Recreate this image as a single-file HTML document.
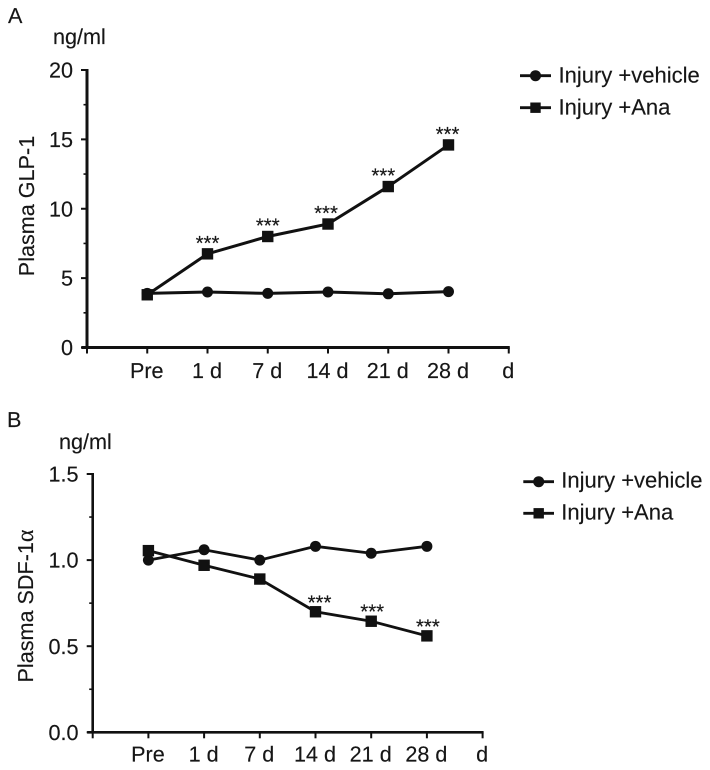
<!DOCTYPE html>
<html lang="en">
<head>
<meta charset="utf-8">
<title>Plasma GLP-1 and SDF-1α</title>
<style>
html,body{margin:0;padding:0;background:#fff;width:710px;height:770px;overflow:hidden}
svg{display:block}
text{font-family:"Liberation Sans",sans-serif;font-size:21.6px;fill:#161616;stroke:#161616;stroke-width:0.15;text-rendering:geometricPrecision}
text.legend{font-size:22px}
text.star{font-size:20.4px}
</style>
</head>
<body>
<svg id="figure" width="710" height="770" viewBox="0 0 710 770" xmlns="http://www.w3.org/2000/svg">
  <text x="8" y="23">A</text>
  <text x="53" y="44">ng/ml</text>
  <text x="34" y="206" text-anchor="middle" transform="rotate(-90 34 206)">Plasma GLP-1</text>
  <text x="7" y="427">B</text>
  <text x="59" y="449">ng/ml</text>
  <text x="33" y="606" text-anchor="middle" transform="rotate(-90 33 606)">Plasma SDF-1<tspan style="font-family:'Liberation Serif',serif;font-size:24px">α</tspan></text>

  <g>
    <g>
      <line x1="520" x2="551" y1="75.7" y2="75.7" stroke="#111" stroke-width="2.8"/>
      <circle cx="535.5" cy="75.7" r="5.5" fill="#111"/>
      <text class="legend" x="558.5" y="82.3">Injury +vehicle</text>
    </g>
    <g>
      <line x1="520" x2="551" y1="107.7" y2="107.7" stroke="#111" stroke-width="2.8"/>
      <rect x="530.3" y="102.5" width="10.4" height="10.4" fill="#111"/>
      <text class="legend" x="558.5" y="114.3">Injury +Ana</text>
    </g>
  </g>
  <g>
    <g>
      <line x1="523.3" x2="554" y1="481.7" y2="481.7" stroke="#111" stroke-width="2.8"/>
      <circle cx="538.7" cy="481.7" r="5.5" fill="#111"/>
      <text class="legend" x="561.3" y="487.6">Injury +vehicle</text>
    </g>
    <g>
      <line x1="523.3" x2="554" y1="513.3" y2="513.3" stroke="#111" stroke-width="2.8"/>
      <rect x="533.5" y="508.1" width="10.4" height="10.4" fill="#111"/>
      <text class="legend" x="561.3" y="519.3">Injury +Ana</text>
    </g>
  </g>
</svg>
<script>
// Shared categories
const categories = ['Pre', '1 d', '7 d', '14 d', '21 d', '28 d', 'd'];

// Panel A data
const glpTicks = ['0', '5', '10', '15', '20'];
const glpVehicle = [3.9, 4.0, 3.9, 4.0, 3.87, 4.03];
const glpAna = [3.8, 6.75, 8.0, 8.9, 11.6, 14.6];
const glpStars = ['', '***', '***', '***', '***', '***'];

// Panel B data
const sdfTicks = ['0.0', '0.5', '1.0', '1.5'];
const sdfVehicle = [1.0, 1.06, 1.0, 1.08, 1.04, 1.08];
const sdfAna = [1.055, 0.97, 0.89, 0.70, 0.645, 0.56];
const sdfStars = ['', '', '', '***', '***', '***'];

const NS = 'http://www.w3.org/2000/svg';
const fig = document.getElementById('figure');

function make(tag, attrs, parent) {
  const el = document.createElementNS(NS, tag);
  for (const k in attrs) el.setAttribute(k, attrs[k]);
  parent.appendChild(el);
  return el;
}

function drawPanel(p) {
  const root = make('g', {}, fig);
  
  

  const yMax = Number(p.ticks[p.ticks.length - 1]);
  const yScale = v => p.yBottom - (v / yMax) * (p.yBottom - p.yTop);
  const xScale = i => p.xAxis + (i + 1) * p.step;

  // y axis
  const yAxis = make('line', {x1: p.xAxis, x2: p.xAxis, y1: p.yTop - 1, y2: p.yBottom + 1, stroke: '#111', 'stroke-width': p.axisWidth}, root);
  
  

  // x axis
  const xAxis = make('line', {x1: p.xAxis - 5.5, x2: xScale(categories.length - 1) + 1, y1: p.yBottom, y2: p.yBottom, stroke: '#111', 'stroke-width': p.axisWidth}, root);
  
  

  // y ticks and labels
  p.ticks.forEach((t, i) => {
    const y = yScale(Number(t));
    const tick = make('line', {x1: p.xAxis - 6, x2: p.xAxis, y1: y, y2: y, stroke: '#111', 'stroke-width': 2}, root);
    
    
    const label = make('text', {x: p.yLabelRight, y: y + 7.6, 'text-anchor': 'end'}, root);
    label.textContent = t;
    
    
    if (i < p.ticks.length - 1) {
      const midY = yScale((Number(t) + Number(p.ticks[i + 1])) / 2);
      const minor = make('line', {x1: p.xAxis - 3.5, x2: p.xAxis, y1: midY, y2: midY, stroke: '#111', 'stroke-width': 1.6}, root);
      
      
    }
  });

  // y-axis origin tick below x axis
  const originTick = make('line', {x1: p.xAxis, x2: p.xAxis, y1: p.yBottom, y2: p.yBottom + 6, stroke: '#111', 'stroke-width': 2}, root);
  
  

  // x ticks and labels
  categories.forEach((c, i) => {
    const x = xScale(i);
    const tick = make('line', {x1: x, x2: x, y1: p.yBottom, y2: p.yBottom + 6, stroke: '#111', 'stroke-width': 2}, root);
    
    
    const label = make('text', {x: x - 0.5, y: p.xLabelBase, 'text-anchor': 'middle'}, root);
    label.textContent = c;
    
    
  });

  // vehicle series
  const vehiclePts = p.vehicle.map((v, i) => xScale(i) + ',' + yScale(v)).join(' ');
  const vehicleLine = make('polyline', {points: vehiclePts, fill: 'none', stroke: '#111', 'stroke-width': p.lineWidth}, root);
  
  
  p.vehicle.forEach((v, i) => {
    const dot = make('circle', {cx: xScale(i), cy: yScale(v), r: 5.5, fill: '#111'}, root);
    
    
  });

  // Ana series
  const anaPts = p.ana.map((v, i) => xScale(i) + ',' + yScale(v)).join(' ');
  const anaLine = make('polyline', {points: anaPts, fill: 'none', stroke: '#111', 'stroke-width': p.lineWidth}, root);
  
  
  p.ana.forEach((v, i) => {
    const sq = make('rect', {x: xScale(i) - 5.7, y: yScale(v) - 5.7, width: 11.4, height: 11.4, fill: '#111'}, root);
    
    
  });

  // significance markers (hand-placed in the figure, so each carries a small horizontal nudge)
  p.stars.forEach((s, i) => {
    if (!s) return;
    const star = make('text', {class: 'star', x: xScale(i) + (p.starNudge[i] || 0), y: yScale(p.ana[i]) - p.starGap, 'text-anchor': 'middle'}, root);
    star.textContent = s;
    
    
  });
}

drawPanel({
  name: 'panel-a-chart', ticks: glpTicks, vehicle: glpVehicle, ana: glpAna, stars: glpStars,
  xAxis: 87, step: 60.25, yTop: 70, yBottom: 347.5,
  yLabelRight: 73, xLabelBase: 378, axisWidth: 3, lineWidth: 3, starGap: 4,
  starNudge: {3: -2, 4: -5, 5: -1}
});
drawPanel({
  name: 'panel-b-chart', ticks: sdfTicks, vehicle: sdfVehicle, ana: sdfAna, stars: sdfStars,
  xAxis: 92.7, step: 55.7, yTop: 474, yBottom: 732.3,
  yLabelRight: 78.5, xLabelBase: 761.5, axisWidth: 2.6, lineWidth: 2.8, starGap: 2.5,
  starNudge: {3: 4, 4: 1, 5: 1}
});
</script>
</body>
</html>
